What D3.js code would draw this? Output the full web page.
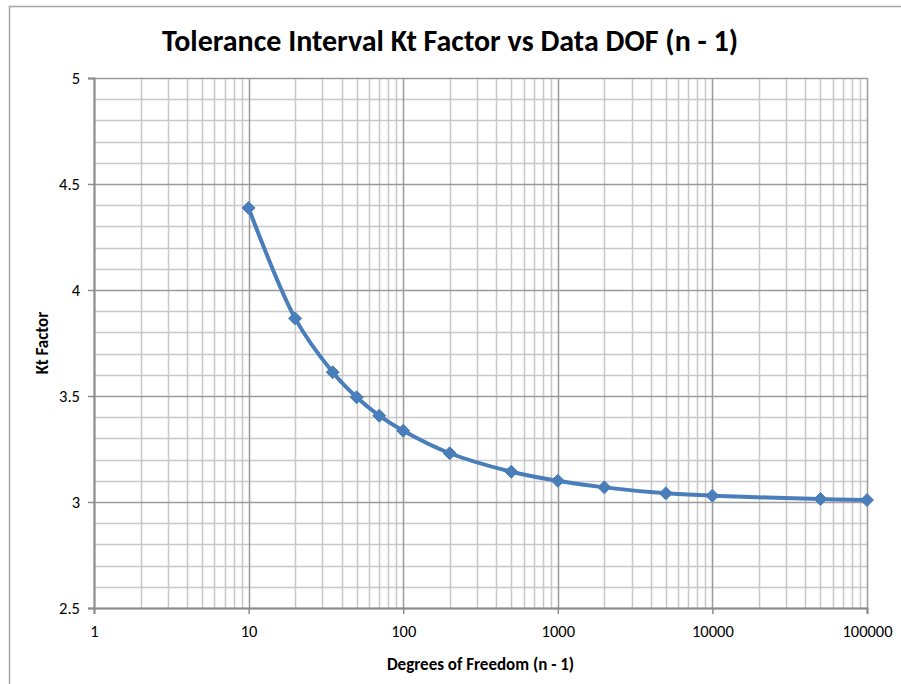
<!DOCTYPE html>
<html>
<head>
<meta charset="utf-8">
<script src="https://cdn.jsdelivr.net/npm/d3@7"></script>
<style>
	body { margin: 0; background: #fff; }
	svg { display: block; font-family: Carlito, Calibri, "Liberation Sans Narrow", "Open Sans", sans-serif; }
</style>
</head>
<body>
<svg id="chart" width="901" height="684"></svg>
<script>
// values
const dof = [10, 20, 35, 50, 70, 100, 200, 500, 1000, 2000, 5000, 10000, 50000, 100000];
const ktFactor = [4.387, 3.866, 3.612, 3.494, 3.407, 3.336, 3.23, 3.143, 3.10, 3.069, 3.041, 3.030, 3.014, 3.009];
const xTicks = [1, 10, 100, 1000, 10000, 100000];
const yTicks = [2.5, 3, 3.5, 4, 4.5, 5];

const margins = { top: 78, right: 34, bottom: 76, left: 94 };
const svg = d3.select('#chart');
const W = +svg.attr('width'), H = +svg.attr('height');
const innerW = W - margins.left - margins.right;
const innerH = H - margins.top - margins.bottom;
const fontStack = 'Carlito, Calibri, "Liberation Sans Narrow", "Open Sans", sans-serif';

// chart frame
svg.append('rect')
	.attr('x', 9.5).attr('y', 6.5)
	.attr('width', W + 10).attr('height', H + 10)
	.attr('fill', 'none').attr('stroke', '#a6a6a6').attr('stroke-width', 1.5);

const g = svg.append('g').attr('transform', `translate(${margins.left},${margins.top})`);

const x = d3.scaleLog().domain([1, 100000]).range([0, innerW]);
const y = d3.scaleLinear().domain([2.5, 5]).range([innerH, 0]);

// minor grid
const xMinor = [];
for (let p = 1; p < 100000; p *= 10) for (let k = 2; k <= 9; k++) xMinor.push(p * k);
const yMinor = d3.range(25, 51).map(v => v / 10).filter(v => !yTicks.includes(v));

g.append('g').selectAll('line').data(xMinor).join('line')
	.attr('x1', d => Math.round(x(d)) + 0.5).attr('x2', d => Math.round(x(d)) + 0.5)
	.attr('y1', 0).attr('y2', innerH)
	.attr('stroke', '#c8c8c8').attr('stroke-width', 1.5);
g.append('g').selectAll('line').data(yMinor).join('line')
	.attr('y1', d => Math.round(y(d)) + 0.5).attr('y2', d => Math.round(y(d)) + 0.5)
	.attr('x1', 0).attr('x2', innerW)
	.attr('stroke', '#c8c8c8').attr('stroke-width', 1.5);

// major grid
g.append('g').selectAll('line').data(xTicks).join('line')
	.attr('x1', d => Math.round(x(d)) + 0.5).attr('x2', d => Math.round(x(d)) + 0.5)
	.attr('y1', 0).attr('y2', innerH)
	.attr('stroke', '#9a9a9a').attr('stroke-width', 1.5);
g.append('g').selectAll('line').data(yTicks).join('line')
	.attr('y1', d => Math.round(y(d)) + 0.5).attr('y2', d => Math.round(y(d)) + 0.5)
	.attr('x1', 0).attr('x2', innerW)
	.attr('stroke', '#9a9a9a').attr('stroke-width', 1.5);

// axes
const xAxis = g.append('g').attr('transform', `translate(0,${innerH})`)
	.call(d3.axisBottom(x).tickValues(xTicks).tickFormat(d3.format('d')).tickSize(6).tickPadding(11));
const yAxis = g.append('g')
	.call(d3.axisLeft(y).tickValues(yTicks).tickFormat(d => d).tickSize(6).tickPadding(8));
[xAxis, yAxis].forEach(a => {
	a.select('.domain').attr('stroke', '#8c8c8c').attr('stroke-width', 2);
	a.selectAll('.tick line').attr('stroke', '#8c8c8c').attr('stroke-width', 1.5);
	a.selectAll('.tick text').attr('fill', '#000').style('font-size', '16.5px')
		.style('font-family', fontStack);
});

// curve
const pts = dof.map((d, i) => ({ x: d, y: ktFactor[i] }));
g.append('path').datum(pts)
	.attr('fill', 'none').attr('stroke', '#4a7ebb').attr('stroke-width', 4)
	.attr('stroke-linejoin', 'round')
	.attr('d', d3.line().x(d => x(d.x)).y(d => y(d.y)).curve(d3.curveCatmullRom.alpha(0.5)));

g.append('g').selectAll('path').data(pts).join('path')
	.attr('transform', d => `translate(${x(d.x)},${y(d.y)})`)
	.attr('d', 'M0,-6.5L6.5,0L0,6.5L-6.5,0Z')
	.attr('fill', '#4a7ebb').attr('stroke', '#4a7ebb').attr('stroke-width', 1);

// titles
svg.append('text')
	.attr('x', 450).attr('y', 51)
	.attr('text-anchor', 'middle')
	.style('font-size', '30px').style('font-weight', 'bold')
	.text('Tolerance Interval Kt Factor vs Data DOF (n - 1)');

svg.append('text')
	.attr('x', margins.left + innerW / 2).attr('y', 670)
	.attr('text-anchor', 'middle')
	.style('font-size', '17px').style('font-weight', 'bold')
	.text('Degrees of Freedom (n - 1)');

svg.append('text')
	.attr('transform', `translate(48,${margins.top + innerH / 2}) rotate(-90)`)
	.attr('text-anchor', 'middle')
	.style('font-size', '17px').style('font-weight', 'bold')
	.text('Kt Factor');
</script>
</body>
</html>
